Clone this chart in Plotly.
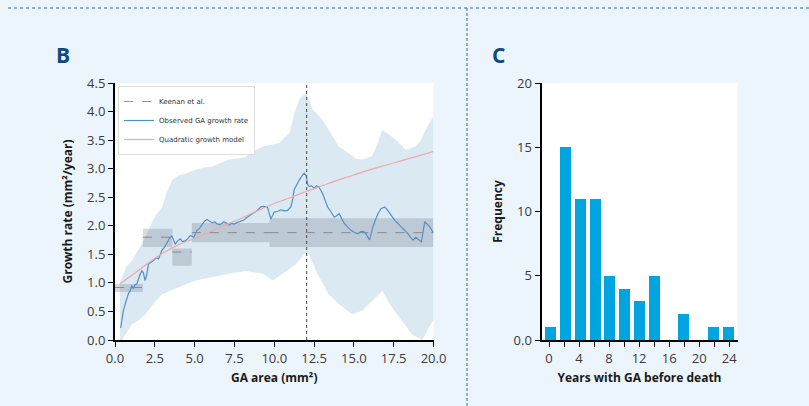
import plotly.graph_objects as go

# ---------------- Panel B data ----------------
obs_x = [0.36,0.45,0.52,0.63,0.74,0.85,0.95,1.05,1.16,1.26,1.37,1.47,1.58,1.68,1.78,1.89,2.0,2.10,2.25,2.42,
         2.58,2.73,2.85,2.94,3.1,3.26,3.4,3.47,3.58,3.68,3.78,3.95,4.10,4.25,4.42,4.58,4.73,4.95,5.15,5.3,
         5.47,5.62,5.78,5.95,6.10,6.25,6.41,6.6,6.83,7.0,7.15,7.3,7.46,7.7,7.88,8.1,8.30,8.5,8.73,8.95,
         9.15,9.35,9.57,9.68,9.78,9.9,9.99,10.2,10.41,10.6,10.83,11.04,11.15,11.25,11.4,11.57,11.75,11.88,12.0,12.1,
         12.19,12.35,12.51,12.65,12.82,13.03,13.2,13.35,13.55,13.77,13.9,14.08,14.25,14.40,14.6,14.82,15.0,15.24,15.45,15.66,
         15.8,15.98,16.08,16.19,16.35,16.51,16.7,16.93,17.1,17.25,17.4,17.56,17.78,17.98,18.2,18.40,18.55,18.72,18.88,19.03,
         19.15,19.24,19.35,19.45,19.6,19.77,19.9,20.0]
obs_rate = [0.21,0.38,0.51,0.62,0.74,0.82,0.86,0.95,0.90,0.97,0.98,1.08,1.15,1.21,1.18,1.04,1.15,1.33,1.36,1.39,
            1.44,1.42,1.50,1.57,1.62,1.71,1.76,1.80,1.82,1.75,1.68,1.74,1.77,1.72,1.74,1.78,1.83,1.80,1.92,1.95,
            2.01,2.08,2.11,2.08,2.05,2.07,2.03,2.02,2.07,2.05,2.01,2.04,2.03,2.06,2.08,2.10,2.15,2.19,2.24,2.27,
            2.33,2.34,2.33,2.22,2.12,2.18,2.24,2.25,2.28,2.26,2.27,2.33,2.45,2.63,2.72,2.80,2.88,2.92,2.88,2.72,
            2.69,2.70,2.66,2.70,2.67,2.57,2.44,2.33,2.25,2.15,2.17,2.21,2.12,2.04,1.98,1.92,1.89,1.86,1.90,1.89,
            1.84,1.75,1.85,1.98,2.10,2.21,2.30,2.33,2.28,2.21,2.16,2.10,2.04,1.98,1.92,1.86,1.80,1.75,1.80,1.77,
            1.74,1.72,1.90,2.07,2.03,1.98,1.92,1.88]

band_up_x = [0.3,0.44,0.7,1.07,1.5,1.91,2.3,2.6,2.96,3.2,3.6,4.0,4.5,5.07,5.6,6.12,6.6,7.17,7.7,8.22,8.7,9.27,9.8,
             10.33,10.96,11.27,11.59,12.01,12.41,13.0,13.42,14.05,14.68,15.1,15.52,16.15,16.5,16.78,17.2,17.62,18.25,
             18.88,19.2,19.51,20.0]
band_up_y = [1.0,1.10,1.28,1.39,1.60,1.80,2.05,2.20,2.33,2.55,2.80,2.88,2.92,2.98,3.02,3.04,3.10,3.16,3.18,3.21,3.30,
             3.39,3.42,3.45,3.63,3.98,4.22,4.33,4.04,3.86,3.68,3.39,3.27,3.18,3.16,3.22,3.45,3.68,3.60,3.51,3.33,
             3.39,3.50,3.68,3.92]
band_lo_x = [0.3,0.44,1.07,1.5,1.91,2.54,2.96,3.5,4.01,4.5,5.07,6.12,7.17,8.22,8.8,9.27,9.91,10.3,10.75,11.38,11.91,
             12.18,12.7,13.42,14.05,14.89,15.52,16.15,16.78,17.41,18.04,18.67,19.3,19.93,20.0]
band_lo_y = [0.0,0.0,0.27,0.35,0.45,0.68,0.80,0.87,0.92,0.98,1.04,1.10,1.16,1.21,1.18,1.16,1.04,1.12,1.21,1.33,1.51,
             1.51,1.16,0.80,0.63,0.45,0.51,0.68,0.86,0.56,0.33,0.09,0.0,0.33,0.35]

model_x = [0.3,1,2,3,4,5,6,7,8,9,10,11,12,13,14,15,16,17,18,19,20]
model_y = [0.98,1.12,1.33,1.52,1.67,1.78,1.90,2.02,2.14,2.27,2.39,2.49,2.60,2.70,2.80,2.89,2.98,3.06,3.14,3.22,3.30]

keenan_x0 = [0.0, 1.75, 3.6, 4.82, 9.7]
keenan_x1 = [1.75, 3.6, 4.82, 9.7, 20.0]
keenan_mean = [0.92, 1.80, 1.54, 1.88, 1.88]
keenan_lo = [0.84, 1.63, 1.30, 1.71, 1.63]
keenan_hi = [0.98, 1.95, 1.60, 2.05, 2.13]

vline_x = 12.03

b_xticks = [0, 2.5, 5, 7.5, 10, 12.5, 15, 17.5, 20]
b_xtext = ["0.0", "2.5", "5.0", "7.5", "10.0", "12.5", "15.0", "17.5", "20.0"]
b_yticks = [0, 0.5, 1, 1.5, 2, 2.5, 3, 3.5, 4, 4.5]
b_ytext = ["0.0", "0.5", "1.0", "1.5", "2.0", "2.5", "3.0", "3.5", "4.0", "4.5"]

# ---------------- Panel C data ----------------
bin_centers = [0.15, 2.12, 4.09, 6.06, 8.03, 10.0, 11.97, 13.94, 15.91, 17.88, 19.85, 21.82, 23.79]
frequency = [1, 15, 11, 11, 5, 4, 3, 5, 0, 2, 0, 1, 1]
c_yticks = [0, 5, 10, 15, 20]
c_ytext = ["0.0", "5", "10", "15", "20"]

# ---------------- style ----------------
BG = "#EDF5FC"
NAVY = "#0E4A7B"
TICKFONT = dict(family="Open Sans", size=13, color="#3a3a3a")
TITLEFONT = dict(family="Open Sans", size=12, color="#1a1a1a", weight="bold")

fig = go.Figure()

# band
fig.add_trace(go.Scatter(
    x=band_up_x + band_lo_x[::-1], y=band_up_y + band_lo_y[::-1],
    fill="toself", fillcolor="rgba(31,119,180,0.16)", line=dict(width=0),
    mode="lines", showlegend=False, hoverinfo="skip", xaxis="x", yaxis="y"))

# Keenan boxes
for i in range(len(keenan_x0)):
    a, b, lo, hi = keenan_x0[i], keenan_x1[i], keenan_lo[i], keenan_hi[i]
    fig.add_trace(go.Scatter(
        x=[a, b, b, a, a], y=[lo, lo, hi, hi, lo], fill="toself",
        fillcolor="rgba(100,110,125,0.25)", line=dict(width=0), mode="lines",
        showlegend=False, hoverinfo="skip", xaxis="x", yaxis="y"))

# Keenan mean dashed lines
kx, ky = [], []
for i in range(len(keenan_x0)):
    kx += [keenan_x0[i], keenan_x1[i], None]
    ky += [keenan_mean[i], keenan_mean[i], None]
fig.add_trace(go.Scatter(x=kx, y=ky, mode="lines", name="Keenan et al.",
                         line=dict(color="rgba(120,120,130,0.8)", width=1, dash="dash"),
                         xaxis="x", yaxis="y"))

fig.add_trace(go.Scatter(x=obs_x, y=obs_rate, mode="lines", name="Observed GA growth rate",
                         line=dict(color="#5090c8", width=1.2), xaxis="x", yaxis="y"))

fig.add_trace(go.Scatter(x=model_x, y=model_y, mode="lines", name="Quadratic growth model",
                         line=dict(color="#f0a8a8", width=1.2, shape="spline"), xaxis="x", yaxis="y"))

# vertical marker
fig.add_trace(go.Scatter(x=[vline_x, vline_x], y=[0, 4.5], mode="lines", showlegend=False,
                         line=dict(color="#606060", width=1.2, dash="dot"), hoverinfo="skip",
                         xaxis="x", yaxis="y"))

# Panel C bars
fig.add_trace(go.Bar(x=bin_centers, y=frequency, width=1.47, marker=dict(color="#00A5E0", line=dict(width=0)),
                     showlegend=False, xaxis="x2", yaxis="y2"))

W, H = 809, 406
def px_x(p):
    return p / W
def px_y(p):
    return 1 - p / H

axis_common = dict(showline=True, linecolor="black", linewidth=2, ticks="outside", ticklen=5,
                   tickcolor="black", tickwidth=1.2, showgrid=False, zeroline=False,
                   tickfont=TICKFONT, mirror=False, automargin=False)

fig.update_layout(
    width=W, height=H, autosize=False, margin=dict(l=0, r=0, t=0, b=0, pad=0, autoexpand=False),
    paper_bgcolor=BG, plot_bgcolor="white",
    xaxis=dict(domain=[px_x(115), px_x(433.5)], range=[0, 20], anchor="y",
               tickvals=b_xticks, ticktext=b_xtext,
               title=dict(text="GA area (mm²)", font=TITLEFONT, standoff=8), **axis_common),
    yaxis=dict(domain=[px_y(340), px_y(83)], range=[0, 4.5], anchor="x",
               tickvals=b_yticks, ticktext=b_ytext,
               title=dict(text="Growth rate (mm²/year)", font=TITLEFONT, standoff=12), **axis_common),
    xaxis2=dict(domain=[px_x(541.5), px_x(737.5)], range=[-1, 25.1], anchor="y2",
                tickvals=[0, 4, 8, 12, 16, 20, 24],
                minor=dict(tickvals=[2, 6, 10, 14, 18, 22], ticks="outside", ticklen=5, tickcolor="black"),
                title=dict(text="Years with GA before death", font=TITLEFONT, standoff=8), **axis_common),
    yaxis2=dict(domain=[px_y(340), px_y(83)], range=[0, 20], anchor="x2",
                tickvals=c_yticks, ticktext=c_ytext,
                title=dict(text="Frequency", font=TITLEFONT, standoff=8), **axis_common),
    legend=dict(x=px_x(118), y=px_y(86), xanchor="left", yanchor="top",
                bgcolor="rgba(255,255,255,0.85)", bordercolor="#dddddd", borderwidth=1,
                font=dict(family="DejaVu Sans", size=7, color="#333333"),
                tracegroupgap=0, itemwidth=30),
    bargap=0,
    annotations=[
        dict(text="<b>B</b>", x=px_x(63), y=px_y(55), xref="paper", yref="paper", showarrow=False,
             xanchor="center", yanchor="middle",
             font=dict(family="Open Sans", size=21, color=NAVY)),
        dict(text="<b>C</b>", x=px_x(498), y=px_y(55), xref="paper", yref="paper", showarrow=False,
             xanchor="center", yanchor="middle",
             font=dict(family="Open Sans", size=21, color=NAVY)),
    ],
    shapes=[
        dict(type="line", xref="paper", yref="paper", x0=px_x(8), x1=1, y0=px_y(8), y1=px_y(8),
             line=dict(color="#2D6A9A", width=1, dash="dot")),
        dict(type="line", xref="paper", yref="paper", x0=px_x(467), x1=px_x(467), y0=0, y1=px_y(8),
             line=dict(color="#2D6A9A", width=1, dash="3px,2px")),
    ],
)

fig.write_html("out.html", config=dict(displayModeBar=False, responsive=False),
               post_script="document.body.style.margin='0px';document.body.style.overflow='hidden';")
